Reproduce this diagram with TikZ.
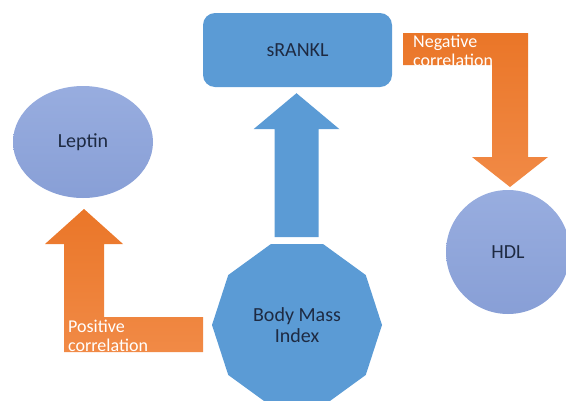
\documentclass[tikz,border=0pt]{standalone}
\usepackage{fontspec}
\setmainfont{Carlito}
\usepackage{tikz}
\newcommand{\boxwidth}{189pt}
\newcommand{\boxheight}{74pt}
\definecolor{myBlue}{RGB}{91,155,213}
\definecolor{myLilacTop}{RGB}{152,173,223}
\definecolor{myLilacBot}{RGB}{136,159,214}
\definecolor{myOrange}{RGB}{234,118,40}
\definecolor{myOrangeLight}{RGB}{241,138,70}
\definecolor{myInk}{RGB}{30,42,66}
\usetikzlibrary{calc,positioning,shapes.geometric}
\tikzset{
  font=\fontsize{18}{19}\selectfont,
  label/.style={font=\fontsize{20}{21}\selectfont,text=myInk},
  box/.style={label,fill=myBlue,shape=rectangle,rounded corners=12pt,minimum width=\boxwidth,minimum height=\boxheight},
  blob/.style={label,shape=ellipse,top color=myLilacTop,bottom color=myLilacBot,inner sep=0},
  deca/.style={label,regular polygon,regular polygon sides=10,fill=myBlue,minimum size=170pt,inner sep=0,align=center},
  uparrow/.style={fill=myBlue},
  bentarrow/.style={top color=myOrange,bottom color=myOrangeLight},
  tag/.style={anchor=north west,inner sep=0,text=white,align=left},
}

\begin{document}
\begin{tikzpicture}[x=1pt,y=-1pt]
  \useasboundingbox (0,0) rectangle (566,400);
  \node (srankl) [box] at (297.5,50) {sRANKL};
  \node (leptin) [blob,minimum width=140pt,minimum height=112pt] at (83,142) {Leptin};
  \node (hdl) [blob,minimum width=124pt,minimum height=124pt] at (508,252) {HDL};
  \node (bmi) [deca] at (297,325) {Body Mass\\Index};
  % Body Mass Index -> sRANKL
  \coordinate (up) at ($(srankl.south)+(-1,6)$);
  \fill [uparrow] (up) -- ++(43,36) -- ++(-21,0) -- ++(0,108) -- ++(-44,0) -- ++(0,-108) -- ++(-21,0) -- cycle;
  % sRANKL -> HDL
  \coordinate (neg) at (403,33);
  \shade [bentarrow] (neg) -- ++(125,0) -- ++(0,124) -- ++(20,0) -- ++(-38,30) -- ++(-38,-30) -- ++(20,0) -- ++(0,-92) -- ++(-89,0) -- cycle;
  \node (negtag) [tag] at (413,35) {Negative\\correlation};
  % Body Mass Index -> Leptin
  \coordinate (pos) at (203,317);
  \shade [bentarrow] (pos) -- ++(0,35) -- ++(-139,0) -- ++(0,-108) -- ++(-19,0) -- ++(39,-35) -- ++(39,35) -- ++(-19,0) -- ++(0,73) -- cycle;
  \node (postag) [tag] at (68,320) {Positive\\correlation};
\end{tikzpicture}
\end{document}
